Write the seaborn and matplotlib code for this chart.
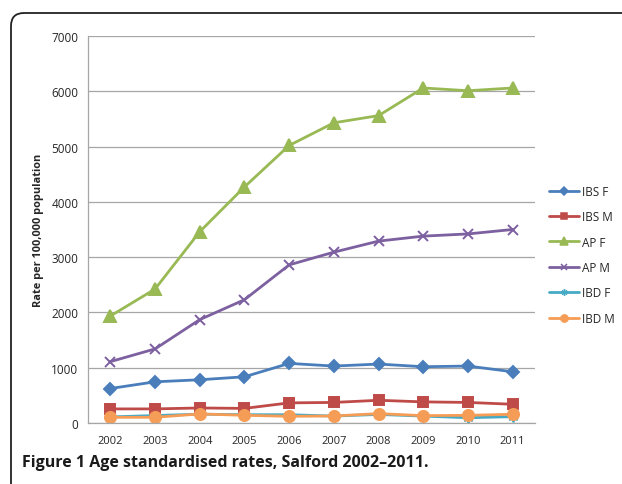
import matplotlib
matplotlib.use("Agg")
import matplotlib.pyplot as plt
from matplotlib.patches import FancyBboxPatch
from matplotlib.lines import Line2D
import pandas as pd
import seaborn as sns

# Age standardised rates per 100,000 population, Salford
years = [2002, 2003, 2004, 2005, 2006, 2007, 2008, 2009, 2010, 2011]
ibs_f = [624, 745, 782, 836, 1078, 1030, 1066, 1018, 1030, 927]
ibs_m = [255, 255, 272, 264, 364, 372, 411, 382, 372, 339]
ap_f = [1935, 2423, 3460, 4270, 5020, 5430, 5560, 6060, 6010, 6060]
ap_m = [1110, 1340, 1870, 2230, 2860, 3090, 3290, 3380, 3420, 3500]
ibd_f = [110, 135, 160, 150, 150, 125, 155, 125, 95, 115]
ibd_m = [103, 103, 164, 139, 121, 127, 170, 133, 139, 158]

series_names = ["IBS F", "IBS M", "AP F", "AP M", "IBD F", "IBD M"]
series_values = [ibs_f, ibs_m, ap_f, ap_m, ibd_f, ibd_m]
y_ticks = [0, 1000, 2000, 3000, 4000, 5000, 6000, 7000]

df = pd.DataFrame(
    [(name, yr, v) for name, vals in zip(series_names, series_values)
     for yr, v in zip(years, vals)],
    columns=["series", "year", "rate"],
)

palette = {
    "IBS F": "#4A7EBB",
    "IBS M": "#BE4B48",
    "AP F": "#98B954",
    "AP M": "#7D60A0",
    "IBD F": "#46AAC5",
    "IBD M": "#F59D56",
}
markers = {
    "IBS F": "D",
    "IBS M": "s",
    "AP F": "^",
    "AP M": "x",
    "IBD F": (6, 2, 0),
    "IBD M": "o",
}
marker_sizes = {"IBS F": 6.3, "IBS M": 7.5, "AP F": 8, "AP M": 7.5,
                "IBD F": 7, "IBD M": 8}

sns.set_theme(style="white")
plt.rcParams["font.family"] = ["Open Sans", "DejaVu Sans"]

fig = plt.figure(figsize=(6.22, 4.85), dpi=100)
ax = fig.add_axes([88 / 622, 1 - 424 / 485, (535 - 88) / 622, (424 - 37) / 485])

for name in series_names:
    sub = df[df["series"] == name]
    sns.lineplot(
        data=sub, x="year", y="rate", color=palette[name],
        marker=markers[name], markersize=marker_sizes[name],
        markeredgewidth=1.4, markeredgecolor=palette[name],
        markerfacecolor=palette[name],
        linewidth=2.0, label=name, ax=ax, legend=False,
    )

ax.set_xlim(2001.5, 2011.5)
ax.set_ylim(0, 7000)
ax.set_xticks(years)
ax.set_xticklabels([str(y) for y in years], fontsize=8)
ax.set_yticks(y_ticks)
ax.set_yticklabels([str(t) for t in y_ticks], fontsize=8.5)
ax.set_xlabel("")
ax.set_ylabel("Rate per 100,000 population", fontsize=7.9, fontweight="bold",
              labelpad=5)
ax.yaxis.grid(True, color="#A6A6A6", linewidth=0.9)
ax.set_axisbelow(True)
for side in ["top", "right"]:
    ax.spines[side].set_visible(False)
for side in ["left", "bottom"]:
    ax.spines[side].set_color("#A6A6A6")
    ax.spines[side].set_linewidth(0.9)
ax.tick_params(axis="y", length=4, width=0.9, color="#A6A6A6", pad=3)
ax.tick_params(axis="x", length=0, pad=9)

# legend on the right, with smaller markers
leg_handles = [
    Line2D([], [], color=palette[n], marker=markers[n],
           markersize=marker_sizes[n] * 0.65, markeredgewidth=1.1,
           markeredgecolor=palette[n], markerfacecolor=palette[n],
           linewidth=2.0)
    for n in series_names
]
fig.legend(leg_handles, series_names, loc="upper left",
           bbox_to_anchor=(544 / 622, 1 - 181 / 485),
           frameon=False, fontsize=8.5, handlelength=2.6,
           handletextpad=0.2, labelspacing=1.05, borderaxespad=0)

# rounded frame around figure
frame = FancyBboxPatch((0.11, -0.6), 7.0, 4.71 + 0.6,
                       boxstyle="round,pad=0,rounding_size=0.13",
                       transform=fig.dpi_scale_trans, fill=False,
                       edgecolor="#222222", linewidth=1.3)
fig.patches.append(frame)

fig.text(22 / 622, 1 - 463 / 485,
         "Figure 1 Age standardised rates, Salford 2002\u20132011.",
         fontsize=11.5, fontweight="bold", va="center", ha="left",
         color="#1a1a1a")

fig.savefig("out.png", dpi=100)
